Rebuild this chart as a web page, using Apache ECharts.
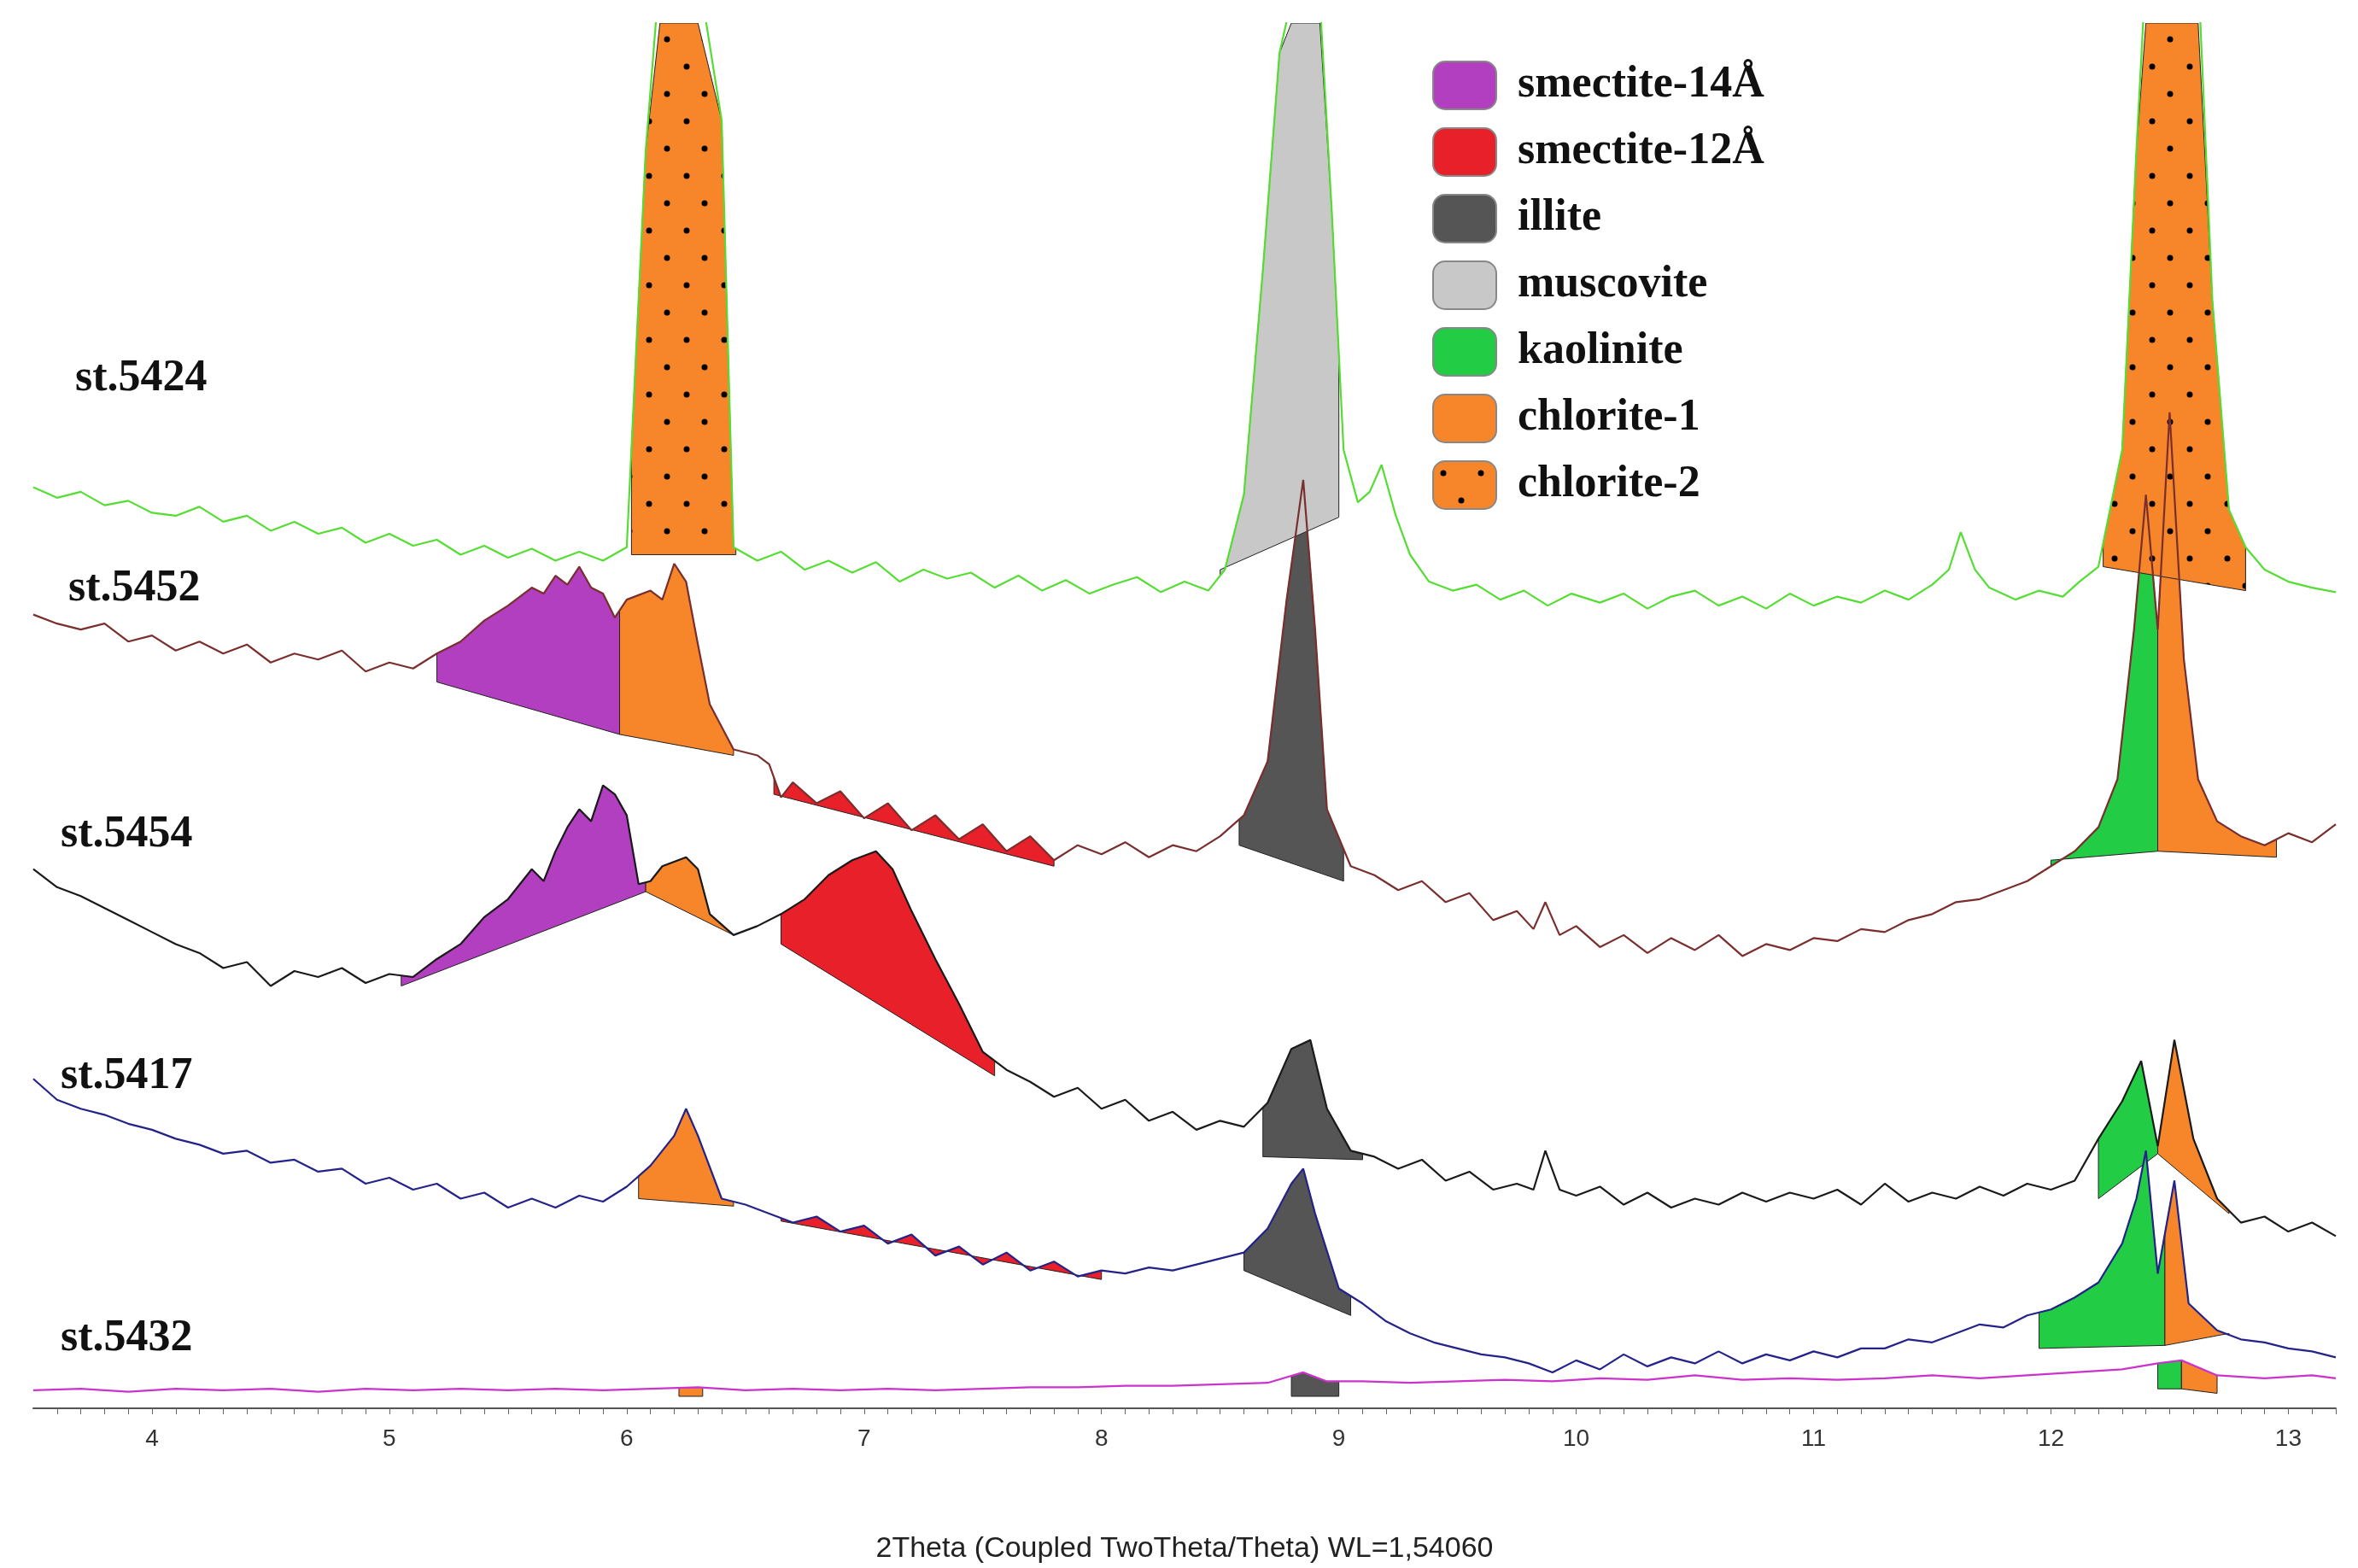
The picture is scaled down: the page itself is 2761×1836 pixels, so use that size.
<!DOCTYPE html>
<html><head><meta charset="utf-8">
<script src="https://cdn.jsdelivr.net/npm/echarts@6/dist/echarts.min.js"></script>
<style>html,body{margin:0;padding:0;background:#fff}#c{width:2761px;height:1836px}</style>
</head><body><div id="c"></div>
<script>
const XMIN = 3.5, XMAX = 13.2, YMAX = 925;
const xTicks = [4,5,6,7,8,9,10,11,12,13];
const sampleNames = ['st.5424','st.5452','st.5454','st.5417','st.5432'];
const sampleColors = ['#55dd33','#7a2e2e','#1a1a1a','#23238a','#cc33cc'];

const st5424 = [[3.5,615],[3.6,608],[3.7,612],[3.8,603],[3.9,606],[4.0,598],[4.1,596],[4.2,602],[4.3,592],[4.4,596],[4.5,586],[4.6,592],[4.7,584],[4.8,588],[4.9,578],[5.0,584],[5.1,576],[5.2,580],[5.3,570],[5.4,576],[5.5,568],[5.6,574],[5.7,566],[5.8,572],[5.9,566],[6.0,575],[6.08,840],[6.14,960],[6.3,960],[6.4,860],[6.45,575],[6.55,566],[6.65,572],[6.75,560],[6.85,566],[6.95,558],[7.05,565],[7.15,552],[7.25,560],[7.35,554],[7.45,558],[7.55,548],[7.65,556],[7.75,546],[7.85,553],[7.95,544],[8.05,550],[8.15,555],[8.25,545],[8.35,552],[8.45,546],[8.52,560],[8.6,610],[8.68,760],[8.75,905],[8.8,940],[8.92,940],[8.97,800],[9.02,640],[9.08,605],[9.13,612],[9.18,630],[9.24,596],[9.3,570],[9.38,552],[9.48,546],[9.58,550],[9.68,540],[9.78,546],[9.88,536],[9.98,544],[10.1,538],[10.2,544],[10.3,534],[10.4,542],[10.5,546],[10.6,536],[10.7,542],[10.8,534],[10.9,544],[11.0,536],[11.1,542],[11.2,538],[11.3,546],[11.4,540],[11.5,550],[11.57,560],[11.62,585],[11.68,560],[11.74,548],[11.85,540],[11.95,546],[12.05,542],[12.12,552],[12.2,562],[12.3,640],[12.36,840],[12.4,960],[12.62,960],[12.68,740],[12.75,600],[12.82,575],[12.9,560],[13.0,552],[13.1,548],[13.2,545]];

const st5452 = [[3.5,530],[3.6,524],[3.7,520],[3.8,524],[3.9,512],[4.0,516],[4.1,506],[4.2,512],[4.3,504],[4.4,510],[4.5,498],[4.6,504],[4.7,500],[4.8,506],[4.9,492],[5.0,498],[5.1,494],[5.2,504],[5.3,512],[5.4,526],[5.5,536],[5.6,548],[5.65,544],[5.7,556],[5.75,550],[5.8,562],[5.85,548],[5.9,544],[5.95,528],[6.0,540],[6.1,546],[6.15,540],[6.2,564],[6.25,552],[6.3,510],[6.35,470],[6.45,440],[6.55,436],[6.6,430],[6.65,408],[6.7,418],[6.8,404],[6.9,412],[7.0,394],[7.1,404],[7.2,386],[7.3,396],[7.4,380],[7.5,390],[7.6,372],[7.7,382],[7.8,366],[7.9,376],[8.0,370],[8.1,378],[8.2,368],[8.3,376],[8.4,372],[8.5,382],[8.6,396],[8.7,432],[8.78,540],[8.85,620],[8.9,520],[8.95,400],[9.05,362],[9.15,356],[9.25,346],[9.35,352],[9.45,338],[9.55,344],[9.65,326],[9.75,332],[9.82,320],[9.87,338],[9.93,316],[10.0,322],[10.1,308],[10.2,316],[10.3,304],[10.4,314],[10.5,306],[10.6,316],[10.7,302],[10.8,310],[10.9,306],[11.0,314],[11.1,312],[11.2,320],[11.3,318],[11.4,326],[11.5,330],[11.6,338],[11.7,340],[11.8,346],[11.9,352],[12.0,362],[12.1,372],[12.2,388],[12.28,420],[12.35,520],[12.4,610],[12.45,520],[12.5,665],[12.56,500],[12.62,420],[12.7,392],[12.8,382],[12.9,376],[13.0,384],[13.1,378],[13.2,390]];

const st5454 = [[3.5,360],[3.6,348],[3.7,342],[3.8,334],[3.9,326],[4.0,318],[4.1,310],[4.2,304],[4.3,294],[4.4,298],[4.5,282],[4.6,292],[4.7,288],[4.8,294],[4.9,284],[5.0,290],[5.1,288],[5.2,300],[5.3,310],[5.4,328],[5.5,340],[5.6,360],[5.65,352],[5.7,372],[5.75,388],[5.8,400],[5.85,392],[5.9,416],[5.95,410],[6.0,396],[6.05,350],[6.1,352],[6.15,362],[6.25,368],[6.3,360],[6.35,330],[6.45,316],[6.55,322],[6.65,330],[6.75,340],[6.85,356],[6.95,366],[7.05,372],[7.12,360],[7.2,332],[7.3,300],[7.4,270],[7.5,238],[7.6,226],[7.7,218],[7.8,208],[7.9,214],[8.0,200],[8.1,206],[8.2,192],[8.3,198],[8.4,186],[8.5,192],[8.6,188],[8.7,204],[8.8,240],[8.88,246],[8.95,200],[9.05,172],[9.15,168],[9.25,160],[9.35,166],[9.45,152],[9.55,158],[9.65,146],[9.75,150],[9.82,146],[9.87,172],[9.93,146],[10.0,142],[10.1,148],[10.2,136],[10.3,144],[10.4,134],[10.5,140],[10.6,136],[10.7,144],[10.8,138],[10.9,144],[11.0,140],[11.1,146],[11.2,136],[11.3,150],[11.4,138],[11.5,144],[11.6,140],[11.7,148],[11.8,142],[11.9,150],[12.0,146],[12.1,152],[12.2,180],[12.3,205],[12.38,232],[12.45,175],[12.52,246],[12.6,180],[12.7,140],[12.8,124],[12.9,128],[13.0,118],[13.1,124],[13.2,115]];

const st5417 = [[3.5,220],[3.6,206],[3.7,200],[3.8,196],[3.9,190],[4.0,186],[4.1,180],[4.2,176],[4.3,170],[4.4,172],[4.5,164],[4.6,166],[4.7,158],[4.8,160],[4.9,150],[5.0,154],[5.1,146],[5.2,150],[5.3,140],[5.4,144],[5.5,134],[5.6,140],[5.7,134],[5.8,142],[5.9,138],[6.0,148],[6.1,162],[6.2,182],[6.25,200],[6.3,182],[6.4,140],[6.5,136],[6.6,130],[6.7,124],[6.8,128],[6.9,118],[7.0,122],[7.1,110],[7.2,116],[7.3,102],[7.4,108],[7.5,96],[7.6,104],[7.7,92],[7.8,98],[7.9,88],[8.0,92],[8.1,90],[8.2,94],[8.3,92],[8.4,96],[8.5,100],[8.6,104],[8.7,120],[8.8,150],[8.85,160],[8.9,130],[9.0,80],[9.1,70],[9.2,58],[9.3,50],[9.4,44],[9.5,40],[9.6,36],[9.7,34],[9.8,30],[9.9,24],[10.0,32],[10.1,26],[10.2,36],[10.3,28],[10.4,34],[10.5,30],[10.6,38],[10.7,30],[10.8,36],[10.9,32],[11.0,38],[11.1,34],[11.2,40],[11.3,40],[11.4,46],[11.5,44],[11.6,50],[11.7,56],[11.8,54],[11.9,62],[12.0,66],[12.1,74],[12.2,84],[12.3,110],[12.36,140],[12.4,172],[12.45,90],[12.52,152],[12.58,70],[12.7,52],[12.8,46],[12.9,44],[13.0,40],[13.1,38],[13.2,34]];

const st5432 = [[3.5,12],[3.7,13],[3.9,11],[4.1,13],[4.3,12],[4.5,13],[4.7,11],[4.9,13],[5.1,12],[5.3,13],[5.5,12],[5.7,13],[5.9,12],[6.1,13],[6.3,14],[6.5,12],[6.7,13],[6.9,12],[7.1,13],[7.3,12],[7.5,13],[7.7,14],[7.9,14],[8.1,15],[8.3,15],[8.5,16],[8.7,17],[8.85,24],[8.95,18],[9.1,18],[9.3,17],[9.5,18],[9.7,19],[9.9,18],[10.1,20],[10.3,19],[10.5,22],[10.7,19],[10.9,20],[11.1,19],[11.3,20],[11.5,22],[11.7,20],[11.9,22],[12.1,24],[12.3,26],[12.45,30],[12.55,32],[12.7,22],[12.9,20],[13.1,22],[13.2,20]];

const traces = {'st.5424':st5424,'st.5452':st5452,'st.5454':st5454,'st.5417':st5417,'st.5432':st5432};

// mineral fill regions: [sample, xStart, xEnd, baseStart, baseEnd]
const smectite14 = [['st.5452',5.2,5.97,485,450],['st.5454',5.05,6.08,282,345]];
const smectite12 = [['st.5452',6.62,7.8,410,362],['st.5454',6.65,7.55,310,222],['st.5417',6.65,8.0,125,86]];
const illite = [['st.5452',8.58,9.02,376,352],['st.5454',8.68,9.1,168,166],['st.5417',8.6,9.05,92,62],['st.5432',8.8,9.0,8,8]];
const muscovite = [['st.5424',8.5,9.0,560,595]];
const kaolinite = [['st.5452',12.0,12.45,366,372],['st.5454',12.2,12.45,140,170],['st.5417',11.95,12.48,40,42],['st.5432',12.45,12.55,13,13]];
const chlorite1 = [['st.5452',5.97,6.45,450,436],['st.5454',6.08,6.45,345,316],['st.5417',6.05,6.45,140,135],['st.5432',6.22,6.32,8,8],['st.5452',12.45,12.95,372,368],['st.5454',12.45,12.75,170,130],['st.5417',12.48,12.75,42,50],['st.5432',12.55,12.7,13,10]];
const chlorite2 = [['st.5424',6.02,6.46,570,570],['st.5424',12.22,12.82,562,546]];

function topAt(tr, x){
  for(let i=0;i<tr.length-1;i++){
    if(x>=tr[i][0] && x<=tr[i+1][0]){
      const t=(x-tr[i][0])/(tr[i+1][0]-tr[i][0]);
      return tr[i][1]+t*(tr[i+1][1]-tr[i][1]);
    }
  }
  return tr[tr.length-1][1];
}

const pc = document.createElement('canvas'); pc.width=44; pc.height=64;
const g = pc.getContext('2d'); g.fillStyle='#f7862a'; g.fillRect(0,0,44,64);
g.fillStyle='#000'; g.beginPath(); g.arc(12,14,3.5,0,Math.PI*2); g.fill();
g.beginPath(); g.arc(33,46,3.5,0,Math.PI*2); g.fill();
const dotPattern = {image: pc, repeat: 'repeat'};

function fillSeries(name, regions, color){
  return {
    type:'custom', name, z:2, clip:true,
    itemStyle:{color},
    data: regions.map(r=>[r[1], r[3]]),
    renderItem(params, api){
      const r = regions[params.dataIndex];
      const tr = traces[r[0]];
      const pts = [[r[1], r[3]], [r[1], topAt(tr,r[1])]];
      tr.forEach(p=>{ if(p[0]>r[1] && p[0]<r[2]) pts.push(p); });
      pts.push([r[2], topAt(tr,r[2])], [r[2], r[4]]);
      const px = pts.map(p=>api.coord([p[0], Math.min(p[1], YMAX)]));
      return {type:'polygon', shape:{points:px}, style:{fill: color, stroke:'#222', lineWidth:1}};
    }
  };
}

const series = [
  fillSeries('smectite-14Å', smectite14, '#b23fbf'),
  fillSeries('smectite-12Å', smectite12, '#e8202a'),
  fillSeries('illite', illite, '#555555'),
  fillSeries('muscovite', muscovite, '#c8c8c8'),
  fillSeries('kaolinite', kaolinite, '#22cc44'),
  fillSeries('chlorite-1', chlorite1, '#f7862a'),
  fillSeries('chlorite-2', chlorite2, dotPattern),
];
sampleNames.forEach((n,i)=>{
  series.push({type:'line', name:n, data:traces[n], showSymbol:false, symbol:'none', z:3,
    lineStyle:{color:sampleColors[i], width:2.2}, itemStyle:{color:sampleColors[i]}, clip:true});
});

const minorTicks = [];
for(let k=36;k<=132;k++) minorTicks.push(k/10);

const labelPos = [[88,448],[80,694],[71,982],[71,1265],[71,1572]];
const chart = echarts.init(document.getElementById('c'));
chart.setOption({
  backgroundColor:'#fff', animation:false,
  grid:{left:39, right:26, top:27, bottom:172},
  xAxis:{type:'value', min:XMIN, max:XMAX,
    axisLine:{lineStyle:{color:'#555', width:2}},
    axisTick:{show:true, length:7, customValues:minorTicks, lineStyle:{color:'#666'}},
    splitLine:{show:false},
    axisLabel:{fontFamily:'Liberation Sans', fontSize:28, color:'#333', margin:22, customValues:xTicks,
      formatter:v=>String(Math.round(v))},
    name:'2Theta (Coupled TwoTheta/Theta) WL=1,54060', nameLocation:'middle', nameGap:148,
    nameTextStyle:{fontFamily:'Liberation Sans', fontSize:34, color:'#222'}},
  yAxis:{type:'value', min:0, max:YMAX, show:false},
  legend:{orient:'vertical', left:1672, top:66, itemWidth:74, itemHeight:56, itemGap:20,
    data:['smectite-14Å','smectite-12Å','illite','muscovite','kaolinite','chlorite-1','chlorite-2'],
    itemStyle:{borderColor:'#888', borderWidth:2},
    textStyle:{fontFamily:'Liberation Serif', fontWeight:'bold', fontSize:52, color:'#111', padding:[0,0,0,20]}},
  graphic: sampleNames.map((n,i)=>({type:'text', left:labelPos[i][0], top:labelPos[i][1]-30,
    style:{text:n, font:'bold 52px "Liberation Serif"', fill:'#111'}})),
  series
});
</script></body></html>
